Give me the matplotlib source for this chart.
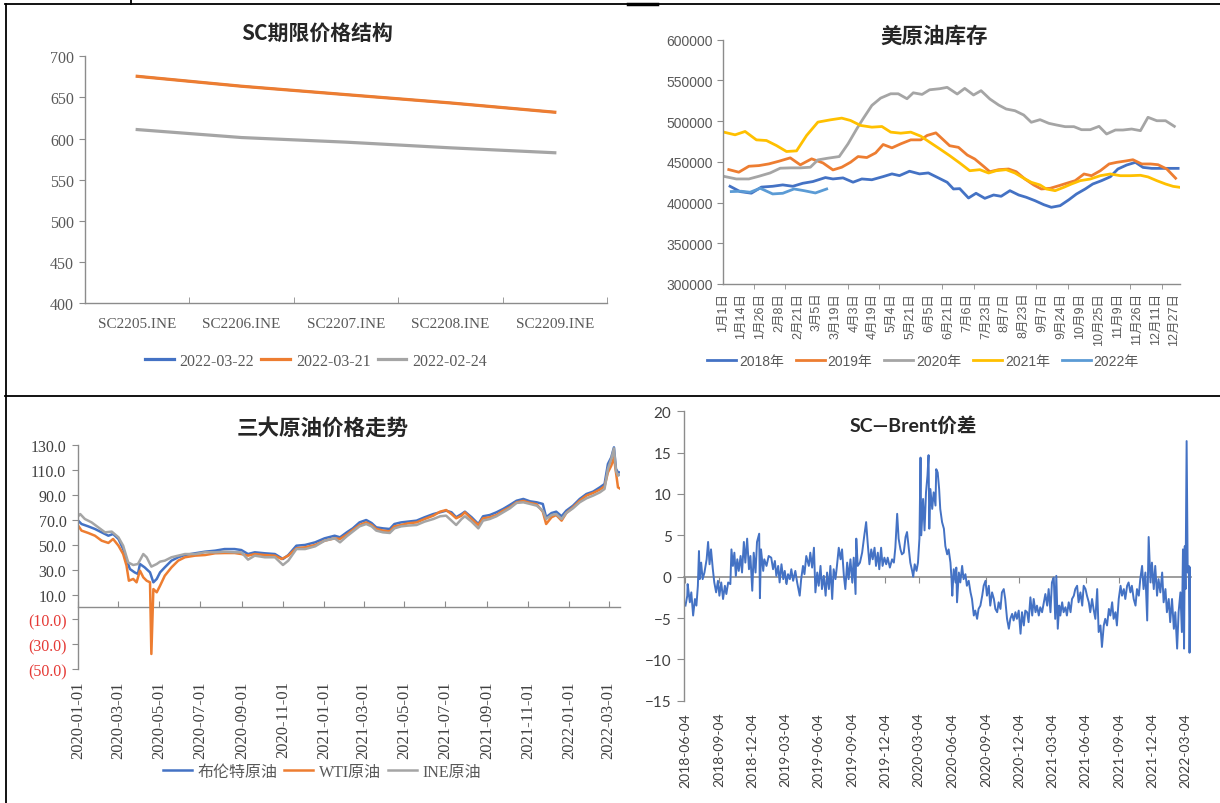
import matplotlib
matplotlib.use('Agg')
import matplotlib.pyplot as plt
import numpy as np
import pandas as pd
from matplotlib.lines import Line2D
from matplotlib.font_manager import FontProperties

# ---------------- Panel 1: SC term structure ----------------
contracts = ['SC2205.INE', 'SC2206.INE', 'SC2207.INE', 'SC2208.INE', 'SC2209.INE']
curve_names = ['2022-03-22', '2022-03-21', '2022-02-24']
curve_0322 = [675.7, 663.6, 653.4, 643.3, 632.0]
curve_0321 = [675.7, 663.6, 653.4, 643.3, 632.0]
curve_0224 = [610.9, 601.2, 595.6, 588.7, 582.7]

# ---------------- Panel 2: US crude inventory (day of year, value) ----------------
inv_years = ['2018年', '2019年', '2020年', '2021年', '2022年']
inv_day_labels = ['1月1日', '1月14日', '1月26日', '2月8日', '2月21日', '3月5日', '3月19日',
                  '4月3日', '4月19日', '5月4日', '5月21日', '6月5日', '6月21日', '7月6日',
                  '7月23日', '8月7日', '8月23日', '9月7日', '9月24日', '10月9日', '10月25日',
                  '11月9日', '11月26日', '12月11日', '12月27日']
d18 = [6, 14, 23, 31, 40, 48, 56, 64, 72, 82, 88, 96, 104, 111, 119, 128, 135, 141, 149, 157,
       164, 172, 179, 184, 189, 196, 202, 209, 216, 222, 229, 236, 242, 249, 256, 262, 269, 276, 282, 289,
       295, 302, 309, 315, 322, 329, 335, 342, 349, 355, 363]
v18 = [420000, 413500, 411500, 419000, 420000, 421700, 420000, 423700, 425800, 430700,
       429000, 430300, 425000, 429000, 428000, 431900, 435200, 433100, 438500, 435200,
       436400, 430300, 424900, 416700, 417100, 405600, 411400, 405200, 409300, 407700,
       414600, 409300, 406500, 402300, 397400, 394200, 396200, 403500, 410500, 416700,
       422800, 426900, 431700, 441200, 446100, 449400, 443200, 442000, 442000, 442000, 442000]
d19 = [5, 13, 21, 29, 37, 45, 54, 62, 71, 80, 88, 95, 102, 108, 115, 122, 128, 135, 142, 150,
       158, 163, 170, 181, 188, 195, 201, 208, 213, 220, 228, 234, 241, 248, 254, 261, 268, 274, 281, 288,
       294, 301, 308, 314, 321, 327, 334, 341, 347, 354, 361]
v19 = [440500, 437300, 444600, 445400, 447500, 450800, 454900, 446300, 453700, 448700,
       440100, 443400, 449500, 456500, 455300, 461000, 471300, 467200, 472100, 477000,
       477000, 482400, 485600, 469800, 467800, 458400, 453500, 444500, 437900, 440400,
       441200, 437900, 428900, 421600, 416700, 417500, 420700, 423600, 426900, 435100,
       433000, 439100, 447400, 449400, 451000, 452600, 447400, 447400, 446500, 441200, 429900]
d20 = [2, 11, 21, 29, 38, 46, 54, 62, 70, 76, 84, 93, 100, 107, 112, 119, 126, 134, 140, 147,
       152, 159, 165, 173, 179, 187, 193, 200, 206, 213, 220, 226, 233, 240, 246, 253, 260, 266, 273, 280,
       286, 293, 300, 306, 313, 319, 326, 333, 339, 346, 353, 360]
v20 = [431900, 429000, 429000, 432300, 436400, 442200, 442600, 442600, 443400, 452400,
       454500, 456500, 472100, 490600, 502900, 519300, 528300, 533600, 533600, 527500,
       534800, 532800, 538500, 539800, 541500, 533300, 540200, 532100, 537400, 527200,
       519800, 514900, 512800, 507500, 498600, 501800, 497300, 495300, 493200, 493200,
       489500, 489500, 493600, 484200, 489100, 489100, 490300, 488300, 504700, 500500,
       500500, 493600]
d21 = [1, 10, 18, 27, 35, 43, 51, 59, 67, 76, 86, 95, 102, 110, 119, 127, 134, 142, 150, 158,
       165, 173, 181, 189, 197, 205, 212, 218, 226, 233, 240, 246, 253, 258, 265, 272, 278, 285, 293, 301,
       309, 317, 325, 333, 339, 346, 353, 359, 364]
v21 = [486500, 483200, 487300, 477000, 476200, 470000, 462700, 463500, 482400, 498800,
       501600, 503700, 500800, 494700, 492600, 493400, 486500, 485200, 486500, 481500,
       474200, 466000, 457600, 448600, 439100, 440400, 436300, 439100, 440400, 436300,
       429900, 424900, 421600, 416700, 414600, 418800, 422800, 426900, 428900, 433000,
       435100, 433000, 433000, 433500, 431500, 426900, 422800, 419900, 418800]
d22 = [7, 15, 22, 30, 40, 48, 57, 65, 74, 83]
v22 = [413500, 413900, 412700, 417600, 410600, 411400, 416700, 414600, 411800, 416700]

# ---------------- Panel 3: three crude prices (days since 2020-01-01) ----------------
oil_names = ['布伦特原油', 'WTI原油', 'INE原油']
brent_days = [0, 5, 15, 25, 35, 45, 52, 60, 67, 72, 77, 84, 89, 92, 99, 107, 112, 117, 122, 129,
              139, 149, 159, 174, 189, 204, 218, 233, 243, 253, 263, 278, 293, 305, 313, 325, 338, 353, 367, 382]
brent_vals = [69.3, 66.6, 64.7, 62.6, 59.9, 57.2, 58.6, 54.6, 46.5, 38.5, 30.5, 27.8, 26.5, 34.5, 31.8,
              27.8, 19.8, 22.5, 27.8, 31.8, 37.2, 39.9, 41.7, 43.1, 44.4, 45.2, 46.5, 46.5, 45.7, 42.5,
              43.9, 43.1, 42.5, 38.5, 41.7, 49.2, 49.8, 51.9, 55.1, 57.2]
wti_days = [0, 5, 15, 25, 35, 45, 52, 60, 67, 72, 75.5, 82, 87, 92, 97, 102, 107, 109, 112, 117,
            122, 129, 139, 149, 159, 174, 189, 204, 218, 233, 243, 253, 263, 278, 293, 303, 313, 325, 338, 353,
            367, 382]
wti_vals = [65.3, 61.3, 59.4, 57.2, 53.2, 51.4, 54.6, 49.2, 42.5, 33.2, 21.1, 22.5, 19.8, 29.2, 23.8,
            21.1, 19.8, -37.7, 14.4, 11.8, 17.1, 25.1, 31.8, 37.2, 39.9, 41.2, 41.7, 43.1, 43.3, 43.3,
            42.5, 41.2, 42.5, 41.7, 41.2, 38.5, 41.2, 47.1, 47.9, 49.8, 53.2, 55.1]
ine_days = [0, 3, 10, 20, 30, 40, 50, 60, 67, 74.5, 82, 89, 97, 102, 109, 117, 122, 129, 139, 149,
            159, 174, 189, 204, 218, 233, 243, 253, 263, 278, 293, 305, 313, 325, 338, 353, 367, 382]
ine_vals = [72.8, 74.6, 70.6, 67.9, 63.9, 59.9, 60.5, 55.9, 49.2, 35.8, 33.7, 34.5, 42.5, 39.9, 32.4,
            34.5, 36.4, 37.2, 39.9, 41.2, 42.5, 42.5, 43.9, 43.9, 44.4, 43.9, 43.9, 38.0, 41.2, 39.9,
            39.9, 33.7, 37.2, 46.5, 46.5, 48.7, 53.2, 55.1]
late_days = [390, 400, 409, 419, 429, 437, 444, 454, 464, 471, 481, 491, 504, 516, 529, 539, 548, 556, 563, 571,
             576, 586, 596, 603, 613, 623, 633, 643, 653, 663, 673, 683, 692, 697, 705, 712, 720, 727, 737, 747,
             757, 767, 777, 784, 789, 794, 798, 801, 804, 808]
brent_late = [55.9, 59.9, 63.1, 67.9, 69.8, 67.4, 63.9, 63.1, 62.6, 66.6, 67.9, 68.5, 69.3, 72.0, 74.6,
              76.0, 77.3, 76.0, 72.0, 74.6, 76.5, 72.0, 66.6, 72.8, 73.8, 76.0, 78.7, 81.9, 85.3, 86.7,
              84.8, 84.0, 82.7, 72.0, 75.4, 76.5, 72.8, 77.3, 81.3, 86.7, 90.7, 92.6, 96.0, 98.7, 114.8,
              120.1, 128.1, 110.8, 108.0, 108.0]
wti_late = [54.6, 58.0, 61.8, 65.8, 67.9, 65.8, 62.6, 61.3, 60.7, 64.7, 65.8, 67.1, 67.9, 70.6, 73.3,
            76.5, 77.8, 74.6, 71.2, 73.3, 76.0, 70.6, 65.8, 71.2, 72.0, 73.8, 77.3, 80.0, 84.0, 85.1,
            83.5, 82.4, 76.5, 66.6, 72.0, 73.8, 69.3, 75.4, 80.0, 85.3, 89.4, 91.5, 94.2, 96.8, 108.0,
            113.4, 120.1, 108.0, 96.0, 94.7]
ine_late = [51.9, 56.7, 60.5, 64.7, 66.6, 64.7, 61.3, 59.9, 59.4, 63.1, 64.7, 65.3, 65.8, 68.5, 70.6,
            72.8, 73.3, 69.3, 65.8, 70.6, 72.8, 68.5, 63.1, 69.3, 70.6, 72.8, 76.0, 79.2, 83.5, 84.0,
            82.7, 81.3, 77.3, 70.6, 73.8, 74.6, 70.6, 75.4, 79.2, 84.0, 87.2, 89.4, 92.0, 94.7, 110.8,
            118.8, 127.3, 109.4, 105.4, 106.7]
oil_ticks = ['2020-01-01', '2020-03-01', '2020-05-01', '2020-07-01', '2020-09-01', '2020-11-01',
             '2021-01-01', '2021-03-01', '2021-05-01', '2021-07-01', '2021-09-01', '2021-11-01',
             '2022-01-01', '2022-03-01']
oil_yticks = [-50, -30, -10, 10, 30, 50, 70, 90, 110, 130]

# ---------------- Panel 4: SC - Brent spread (days since 2018-06-04) ----------------
spread_days = [
    0, 5, 6, 12, 16, 21, 26, 30, 34, 37, 39, 43, 47, 52, 58, 62, 66, 70, 75, 79,
    84, 89, 93, 98, 103, 108, 112, 117, 123, 126, 130, 134, 138, 142, 146, 151, 155, 160, 164, 169,
    174, 178, 183, 187, 192, 196, 202, 204, 207, 213, 216, 222, 228, 235, 240, 245, 249, 254, 258, 263,
    268, 272, 277, 281, 286, 290, 295, 301, 306, 313, 317, 322, 326, 331, 338, 342, 347, 352, 356, 361,
    365, 370, 374, 379, 384, 388, 393, 397, 402, 406, 411, 415, 420, 425, 429, 434, 438, 443, 447, 452,
    457, 461,
    466, 468, 472, 478, 484, 490, 495, 499, 504, 509, 513, 518, 522, 527, 531, 536, 540, 545, 550, 554,
    560, 566, 571, 575, 580, 584, 589, 593, 598, 603, 607, 612, 616, 621, 624, 628, 633, 637, 641, 644,
    646, 651, 655, 659, 663, 666, 668, 671, 676, 680, 685, 687, 691, 695, 698, 703, 708, 712, 717, 721,
    726, 729, 731, 735, 740, 742, 744, 749, 753, 758, 762, 767, 771, 776, 781, 785, 790, 794, 799, 803,
    808, 813, 817, 822, 826, 831, 835, 840, 845, 849, 854, 858, 863, 867, 872, 876, 881, 886, 890, 895,
    899, 904, 908, 913, 918, 922, 927, 931,
    936, 940, 945, 950, 954, 959, 963, 968, 972, 977, 982, 986, 991, 995, 1000, 1004, 1009, 1013, 1016, 1020,
    1024, 1027, 1032, 1036, 1041, 1045, 1050, 1055, 1059, 1064, 1068, 1073, 1077, 1082, 1087, 1091, 1096, 1100, 1105, 1109,
    1114, 1118, 1123, 1128, 1132, 1137, 1141, 1146, 1150, 1155, 1160, 1164, 1169, 1173, 1178, 1182, 1187, 1192, 1196, 1201,
    1205, 1210, 1214, 1219, 1223, 1228, 1233, 1237, 1242, 1246, 1251, 1255, 1260, 1265, 1269, 1274, 1278, 1283, 1287, 1292,
    1296, 1301, 1306, 1310, 1315, 1319, 1324, 1328, 1333, 1338, 1342, 1347, 1351, 1356, 1360, 1363, 1366, 1368, 1370, 1373,
    1376, 1379, 1381, 1384]
spread_vals = [
    -3.5, -2.3, -0.9, -3.1, -1.9, -4.7, -2.7, -3.5, -1.1, 3.1, -0.3, 1.7, -0.3, 0.5, 2.1, 4.2, 1.5, 3.3, 0.9, -0.7,
    -1.9, -0.5, -2.3, -0.7, -2.7, -1.1, -2.1, -0.7, -0.9, 3.3, 1.3, 2.9, 0.1, 2.1, 0.7, 2.5, 0.5, 4.2, 1.7, 4.6,
    0.9, 2.5, -1.7, 2.9, 0.5, 4.2, 5.2, -2.6, 3.3, 0.7, 2.1, 1.3, 2.5, 2.3, 0.9, 1.9, 0.1, 1.3, -0.7, 1.5,
    -0.3, 0.7, -0.9, 0.3, -0.3, 0.9, -0.5, 0.7, -0.7, -2.3, -0.3, 1.3, 0.3, 2.5, 1.3, 2.9, 1.1, 3.5, -1.9, 0.5,
    -1.1, 1.3, -1.5, 0.1, -2.3, 0.5, -1.5, 1.3, -2.7, 0.9, -0.3, 1.3, 3.5, 2.1, 3.3, 0.1, -1.5, 1.7, -0.3, 2.1,
    -0.7, 2.3,
    -2.1, 4.6, 1.3, 1.7, 2.9, 5.0, 6.6, 4.2, 1.5, 3.3, 2.1, 3.5, 1.3, 2.9, 0.9, 3.5, 1.3, 2.3, 1.5, 2.3,
    1.1, 2.1, 1.7, 3.5, 7.6, 4.6, 3.3, 2.7, 2.9, 4.8, 5.4, 3.3, 1.7, 0.7, 0.0, 1.5, 0.7, 1.7, 4.6, 14.4,
    5.0, 9.4, 5.6, 10.2, 12.2, 14.7, 5.8, 10.6, 8.2, 10.2, 8.6, 13.0, 12.6, 10.6, 8.2, 6.6, 5.8, 3.7, 2.7, 3.3,
    1.7, -0.3, -2.3, 0.9, -0.7, 1.1, -3.1, 0.5, -0.7, 1.3, -0.3, 0.3, -1.1, -0.5, -1.9, -2.7, -4.7, -4.1, -5.1, -3.9,
    -3.5, -2.3, -1.1, -0.5, -2.3, -1.1, -3.5, -1.9, -2.7, -3.9, -4.3, -3.1, -3.9, -1.9, -1.5, -2.7, -5.1, -6.3, -5.1, -4.5,
    -5.3, -4.3, -5.1, -4.1, -6.9, -4.3, -5.9, -4.1,
    -4.3, -5.5, -2.5, -4.7, -2.7, -4.3, -3.5, -4.7, -3.7, -4.3, -3.1, -2.1, -3.5, -1.5, -4.3, -0.7, -0.1, -5.1, 0.1, -6.3,
    -3.5, -4.7, -3.1, -4.3, -3.7, -4.7, -3.1, -4.3, -2.7, -2.3, -1.5, -1.1, -3.1, -1.9, -3.5, -1.1, -1.5, -2.3, -3.1, -4.3,
    -2.7, -3.9, -5.1, -1.5, -6.7, -5.9, -8.5, -5.9, -5.1, -5.9, -3.9, -4.7, -3.1, -5.1, -4.3, -5.9, -2.7, -1.1, -2.3, -1.5,
    -2.7, -1.1, -0.7, -1.9, -1.1, -2.7, -3.5, -1.5, -2.3, -0.3, 1.3, -1.5, 0.5, -5.3, 4.8, -0.7, 1.7, -1.5, 1.3, -2.3,
    -0.3, -1.9, 0.5, -3.1, -1.5, -4.3, -2.7, -5.5, -2.7, -6.3, -4.3, -8.7, -4.3, -1.9, -6.7, 3.3, -8.7, 3.7, -1.5, 16.4,
    0.5, 1.3, -9.2, 1.1]
spread_ticks = ['2018-06-04', '2018-09-04', '2018-12-04', '2019-03-04', '2019-06-04', '2019-09-04',
                '2019-12-04', '2020-03-04', '2020-06-04', '2020-09-04', '2020-12-04', '2021-03-04',
                '2021-06-04', '2021-09-04', '2021-12-04', '2022-03-04']

# ---------------- styling ----------------
BLUE, ORANGE, GRAY, YELLOW, LBLUE = '#4472C4', '#ED7D31', '#A5A5A5', '#FFC000', '#5B9BD5'
AXC = '#8C8C8C'
TXT = '#595959'
TITLE_C = '#262626'
SERIF = ['Liberation Serif', 'Noto Sans CJK SC']
SANS = ['Liberation Sans', 'Noto Sans CJK SC']
CAL = ['Lato', 'Noto Sans CJK SC']
CJK = ['Noto Sans CJK SC', 'DejaVu Sans']

plt.rcParams['font.family'] = SANS
W, H = 1220, 804
fig = plt.figure(figsize=(W / 100, H / 100), dpi=100)


def px_axes(l, t, r, b):
    return fig.add_axes([l / W, 1 - b / H, (r - l) / W, (b - t) / H])


def base_style(ax):
    for s in ('top', 'right'):
        ax.spines[s].set_visible(False)
    for s in ('left', 'bottom'):
        ax.spines[s].set_color(AXC)
        ax.spines[s].set_linewidth(1.0)


# ===== Panel 1 =====
ax1 = px_axes(85, 57.3, 607, 304)
base_style(ax1)
xc = np.arange(len(contracts))
ax1.plot(xc, curve_0322, color=BLUE, lw=1.6, label=curve_names[0])
ax1.plot(xc, curve_0321, color=ORANGE, lw=2.3, label=curve_names[1])
ax1.plot(xc, curve_0224, color=GRAY, lw=2.3, label=curve_names[2])
ax1.set_xlim(-0.5, len(contracts) - 0.5)
ax1.set_ylim(400, 700)
ax1.set_yticks(np.arange(400, 701, 50))
ax1.set_xticks(xc)
ax1.set_xticklabels(contracts)
ax1.set_xticks(np.arange(-0.5, len(contracts), 1.0), minor=True)
ax1.tick_params(axis='x', which='major', length=0, pad=10, labelsize=11, labelcolor=TXT,
                labelfontfamily=SERIF)
ax1.tick_params(axis='x', which='minor', direction='in', length=4, color=AXC)
ax1.tick_params(axis='y', direction='out', length=4.5, color=AXC, pad=3.5, labelsize=11.5,
                labelcolor=TXT, labelfontfamily=SERIF)
h1, l1 = ax1.get_legend_handles_labels()
h1[0] = Line2D([], [], color=BLUE, lw=2.3)
fig.legend(h1, l1, loc='center', bbox_to_anchor=(316 / W, 1 - 361.7 / H), ncol=3, frameon=False,
           prop=FontProperties(family=SERIF, size=11.5), labelcolor=TXT, handlelength=1.8,
           handletextpad=0.35, columnspacing=0.45)
fig.text(317 / W, 1 - 33 / H, 'SC期限价格结构', ha='center', va='center', fontsize=15,
         fontweight='bold', color=TITLE_C, family=CJK)

# ===== Panel 2 =====
ax2 = px_axes(722.5, 40.7, 1180, 285)
base_style(ax2)
for d, v, c, n in [(d18, v18, BLUE, inv_years[0]), (d19, v19, ORANGE, inv_years[1]),
                   (d20, v20, GRAY, inv_years[2]), (d21, v21, YELLOW, inv_years[3]),
                   (d22, v22, LBLUE, inv_years[4])]:
    ax2.plot(d, v, color=c, lw=2.0, label=n)
ax2.set_xlim(0, 364.5)
ax2.set_ylim(300000, 600000)
ax2.set_yticks(np.arange(300000, 600001, 50000))
ax2.set_yticklabels([str(int(t)) for t in np.arange(300000, 600001, 50000)])
ax2.set_xticks(np.arange(len(inv_day_labels)) * 15)
ax2.set_xticklabels(inv_day_labels, rotation=90, va='top', ha='center')
ax2.set_xticks(np.arange(25, 360, 25), minor=True)
ax2.tick_params(axis='x', which='major', length=0, pad=5.5, labelsize=9, labelcolor=TXT)
ax2.tick_params(axis='x', which='minor', direction='out', length=3.5, color=AXC)
ax2.tick_params(axis='y', direction='out', length=4, color=AXC, pad=3, labelsize=10, labelcolor=TXT)
h2, l2 = ax2.get_legend_handles_labels()
fig.legend(h2, l2, loc='center', bbox_to_anchor=(923 / W, 1 - 362 / H), ncol=5, frameon=False,
           prop=FontProperties(family=SANS, size=10), labelcolor=TXT, handlelength=2.1,
           handletextpad=0.2, columnspacing=0.85)
fig.text(934.6 / W, 1 - 36 / H, '美原油库存', ha='center', va='center', fontsize=15.5,
         fontweight='bold', color=TITLE_C, family=CJK)

# ===== Panel 3 =====
ax3 = px_axes(77.5, 446, 620, 670.3)
base_style(ax3)
ax3.spines['bottom'].set_visible(False)
b0 = pd.Timestamp('2020-01-01')
ax3.plot(b0 + pd.to_timedelta(brent_days + late_days, unit='D'), brent_vals + brent_late,
         color=BLUE, lw=1.8, label=oil_names[0])
ax3.plot(b0 + pd.to_timedelta(wti_days + late_days, unit='D'), wti_vals + wti_late,
         color=ORANGE, lw=1.8, label=oil_names[1])
ax3.plot(b0 + pd.to_timedelta(ine_days + late_days, unit='D'), ine_vals + ine_late,
         color=GRAY, lw=1.8, label=oil_names[2])
ax3.set_ylim(-50, 130)
ax3.set_xlim(pd.Timestamp('2019-12-31'), pd.Timestamp('2022-03-18'))
ax3.set_yticks(oil_yticks)
ax3.set_yticklabels([('(%.1f)' % abs(t)) if t < 0 else ('%.1f' % t) for t in oil_yticks])
for t, lab in zip(oil_yticks, ax3.get_yticklabels()):
    lab.set_color('#E53935' if t < 0 else '#404040')
ax3.tick_params(axis='y', direction='out', length=4, color=AXC, pad=4, labelsize=11.5,
                labelfontfamily=SERIF)
otk = pd.to_datetime(oil_ticks)
ax3.set_xticks(otk)
ax3.set_xticklabels(oil_ticks, rotation=90, va='top', ha='center')
ax3.tick_params(axis='x', length=0, pad=8, labelsize=12, labelcolor='#404040', labelfontfamily=SERIF)
sec3 = ax3.secondary_xaxis(50 / 180)
sec3.set_xticks(otk)
sec3.tick_params(axis='x', direction='in', length=4.5, color=AXC, labelbottom=False)
sec3.spines['bottom'].set_color(AXC)
sec3.spines['bottom'].set_linewidth(1.0)
h3, l3 = ax3.get_legend_handles_labels()
fig.legend(h3, l3, loc='center', bbox_to_anchor=(322 / W, 1 - 773 / H), ncol=3, frameon=False,
           prop=FontProperties(family=SERIF, size=11.5), labelcolor=TXT, handlelength=1.8,
           handletextpad=0.35, columnspacing=0.45)
fig.text(322.6 / W, 1 - 428 / H, '三大原油价格走势', ha='center', va='center', fontsize=15.5,
         fontweight='bold', color=TITLE_C, family=CJK)

# ===== Panel 4 =====
ax4 = px_axes(684, 412.3, 1191, 701.7)
base_style(ax4)
ax4.spines['bottom'].set_visible(False)
b4 = pd.Timestamp('2018-06-04')
ax4.plot(b4 + pd.to_timedelta(spread_days, unit='D'), spread_vals, color=BLUE, lw=1.4)
ax4.set_ylim(-15, 20)
ax4.set_xlim(b4 - pd.Timedelta(days=4), b4 + pd.Timedelta(days=1385))
ax4.set_yticks(np.arange(-15, 21, 5))
ax4.tick_params(axis='y', direction='out', length=5, color=AXC, pad=4, labelsize=11,
                labelcolor='#404040', labelfontfamily=CAL)
stk = pd.to_datetime(spread_ticks)
ax4.set_xticks(stk)
ax4.set_xticklabels(spread_ticks, rotation=90, va='top', ha='center')
ax4.tick_params(axis='x', length=0, pad=8, labelsize=10, labelcolor='#404040', labelfontfamily=CAL)
sec4 = ax4.secondary_xaxis(15 / 35)
sec4.set_xticks(stk)
sec4.tick_params(axis='x', direction='out', length=4.5, color=AXC, labelbottom=False)
sec4.spines['bottom'].set_color(AXC)
sec4.spines['bottom'].set_linewidth(1.2)
fig.text(912.8 / W, 1 - 425 / H, 'SC—Brent价差', ha='center', va='center', fontsize=14,
         fontweight='bold', color=TITLE_C, family=CAL)

# ===== frame lines =====
def fline(x0, y0, x1, y1, lw=1.3):
    fig.add_artist(Line2D([x0 / W, x1 / W], [1 - y0 / H, 1 - y1 / H], transform=fig.transFigure,
                          color='black', lw=lw))

fline(5, 4.5, 1220, 4.5)
fline(131, 0, 131, 4.5)
fline(628, 5, 657, 5, lw=2.5)
fline(5.5, 4.5, 5.5, 804)
fline(5, 396.5, 1220, 396.5)

fig.savefig('out.png', dpi=100)
